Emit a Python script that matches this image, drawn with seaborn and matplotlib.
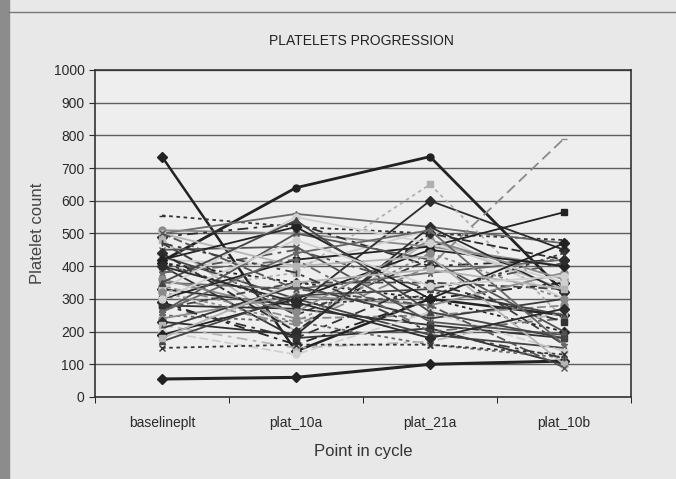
import numpy as np
import pandas as pd
import matplotlib
matplotlib.use("Agg")
import matplotlib.pyplot as plt
import seaborn as sns
from matplotlib.patches import Rectangle

points = ["baselineplt", "plat_10a", "plat_21a", "plat_10b"]

# one value per patient at each point in the cycle
baselineplt = [735, 415, 55, 555, 500, 510, 490, 480, 470, 420,
               410, 400, 430, 380, 350, 340, 330, 320, 310, 300,
               290, 280, 270, 260, 250, 240, 230, 220, 210, 200,
               190, 150, 170, 450, 380, 360, 440, 500, 410, 330,
               420, 280, 350, 500, 260, 320, 400, 180, 470, 300]
plat_10a = [140, 640, 60, 520, 560, 500, 530, 200, 250, 400,
            350, 180, 300, 450, 330, 240, 280, 380, 220, 420,
            160, 270, 350, 500, 230, 310, 190, 150, 340, 130,
            300, 160, 310, 460, 420, 260, 200, 400, 280, 550,
            520, 180, 540, 330, 440, 230, 290, 350, 380, 480]
plat_21a = [300, 735, 100, 500, 520, 460, 400, 480, 420, 510,
            300, 210, 190, 330, 380, 250, 600, 650, 400, 460,
            300, 220, 350, 420, 160, 280, 520, 170, 240, 260,
            450, 160, 330, 230, 200, 480, 500, 430, 310, 470,
            300, 350, 260, 280, 510, 440, 180, 390, 200, 340]
plat_10b = [250, 320, 110, 480, 470, 400, 420, 330, 160, 300,
            200, 100, 150, 410, 420, 280, 450, 240, 790, 565,
            350, 180, 330, 200, 120, 380, 320, 260, 300, 140,
            400, 130, 250, 190, 240, 360, 420, 100, 440, 350,
            470, 230, 180, 90, 160, 300, 270, 330, 120, 370]

n = len(baselineplt)
df = pd.DataFrame({
    "patient": np.repeat(np.arange(n), 4),
    "point": points * n,
    "count": np.column_stack([baselineplt, plat_10a, plat_21a, plat_10b]).ravel(),
})

greys = ["#222222", "#333333", "#454545", "#555555", "#686868", "#8a8a8a",
         "#2c2c2c", "#b5b5b5", "#3c3c3c", "#d0d0d0"]
marks = ["D", "s", "^", "x", "*", "o", "D", "s", "|", "o"]
dash_opts = ["-", (0, (5, 2)), "-", (0, (2, 2)), "-", "-", (0, (6, 3, 2, 3))]
colors = [greys[i % len(greys)] for i in range(n)]
markers = [marks[i % len(marks)] for i in range(n)]
styles = [dash_opts[i % len(dash_opts)] for i in range(n)]
widths = [1.3] * n
# the few lines that stand out in the scan
for i, m in ((0, "D"), (1, "o"), (2, "D"), (19, "s")):
    colors[i], markers[i], styles[i] = "#222222", m, "-"
widths[0], widths[1], widths[2] = 1.8, 2.0, 2.2
colors[18], styles[18], markers[18] = "#8a8a8a", (0, (6, 3)), "_"
colors[17] = "#b0b0b0"
markers[31] = "x"
colors[3], markers[3] = "#333333", "_"

fig = plt.figure(figsize=(6.76, 4.79), dpi=100, facecolor="#e8e8e8")
ax = fig.add_axes([0.1405, 0.1712, 0.7929, 0.6827])
ax.set_facecolor("#eeeeee")

for i in range(n):
    sub = df[df["patient"] == i]
    sns.lineplot(data=sub, x="point", y="count", sort=False, color=colors[i],
                 marker=markers[i], linestyle=styles[i], linewidth=widths[i],
                 markersize=5, markeredgewidth=1.0, markeredgecolor=colors[i],
                 ax=ax)

ax.set_xlim(-0.5, 3.5)
ax.set_ylim(0, 1000)
ax.set_yticks(np.arange(0, 1001, 100))
ax.set_xticks(range(4))
ax.set_xticklabels(points)
ax.set_xticks([-0.5, 0.5, 1.5, 2.5, 3.5], minor=True)
ax.tick_params(axis="x", which="major", length=0, pad=14, labelsize=10, colors="#2a2a2a")
ax.tick_params(axis="x", which="minor", length=4, direction="out")
ax.tick_params(axis="y", length=4, labelsize=10, colors="#2a2a2a")
ax.yaxis.grid(True, color="#5e5e5e", linewidth=1.0)
ax.xaxis.grid(False)
ax.set_axisbelow(True)
for s in ax.spines.values():
    s.set_color("#333333")
    s.set_linewidth(1.2)

ax.set_xlabel("Point in cycle", fontsize=12, labelpad=10, color="#333333")
ax.set_ylabel("Platelet count", fontsize=12, labelpad=6, color="#444444")
fig.text(0.535, 0.915, "PLATELETS PROGRESSION", ha="center", va="center",
         fontsize=10, color="#222222")

# scan edges
fig.patches.append(Rectangle((0, 0), 0.014, 1, transform=fig.transFigure,
                             color="#8c8c8c", zorder=0))
fig.lines.append(plt.Line2D([0.014, 1], [0.975, 0.975], transform=fig.transFigure,
                            color="#777777", linewidth=1.0))

for t in fig.findobj(matplotlib.text.Text):
    t.set_family(["Liberation Sans", "DejaVu Sans"])

fig.savefig("out.png", dpi=100, facecolor=fig.get_facecolor())
